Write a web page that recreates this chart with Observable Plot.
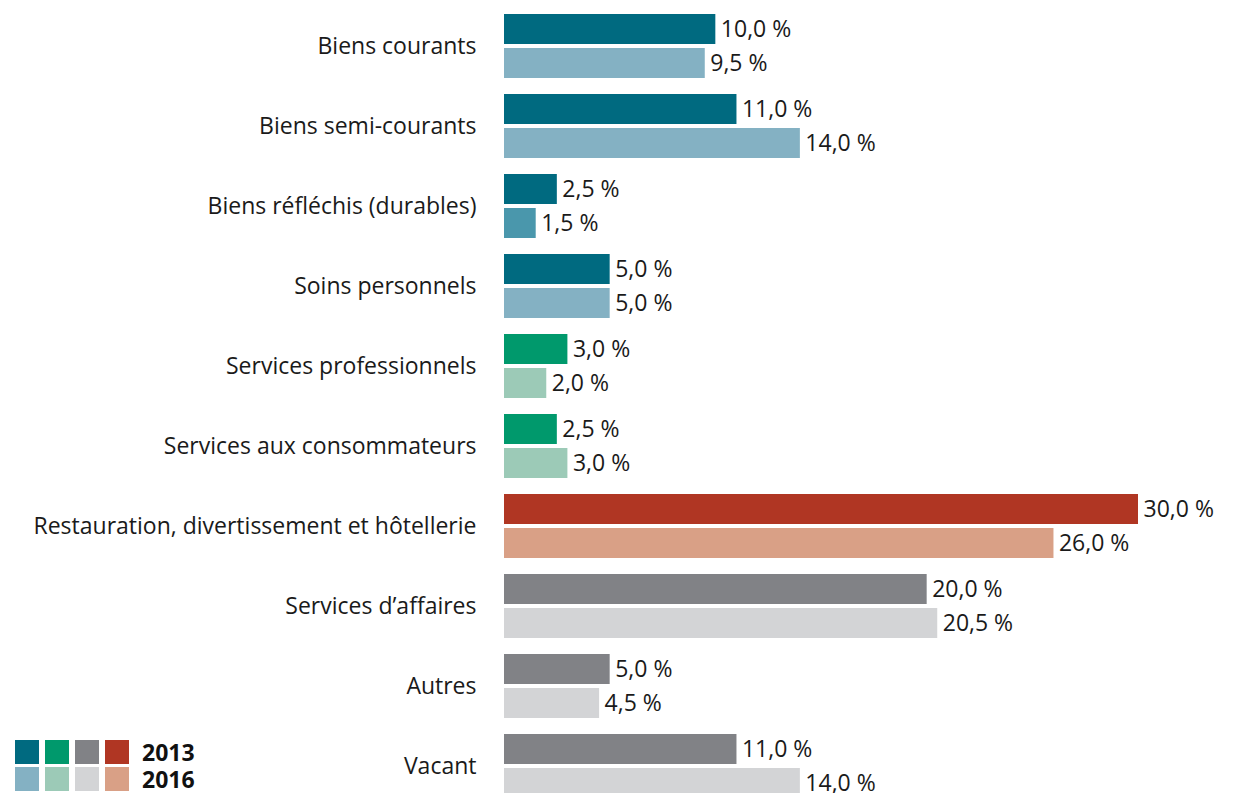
<!DOCTYPE html>
<html>
<head>
<meta charset="utf-8">
<script src="https://cdn.jsdelivr.net/npm/d3@7"></script>
<script src="https://cdn.jsdelivr.net/npm/@observablehq/plot@0.6"></script>
<style>
  html, body { margin: 0; padding: 0; background: #fff; overflow: hidden; }
  #wrap { position: relative; width: 1234px; height: 793px; font-family: "Open Sans", "Noto Sans", sans-serif; }
  #legend { position: absolute; left: 15px; top: 740px; }
  .sw { position: absolute; width: 24px; height: 24px; }
  .yr { position: absolute; left: 127px; font-weight: bold; font-size: 23px; color: #111; line-height: 22px; }
</style>
</head>
<body>
<div id="wrap"><div id="chart"></div><div id="legend"></div></div>
<script>
const categories = [
  "Biens courants",
  "Biens semi-courants",
  "Biens réfléchis (durables)",
  "Soins personnels",
  "Services professionnels",
  "Services aux consommateurs",
  "Restauration, divertissement et hôtellerie",
  "Services d’affaires",
  "Autres",
  "Vacant"
];
const values2013 = [10.0, 11.0, 2.5, 5.0, 3.0, 2.5, 30.0, 20.0, 5.0, 11.0];
const values2016 = [9.5, 14.0, 1.5, 5.0, 2.0, 3.0, 26.0, 20.5, 4.5, 14.0];
const groups = ["biens", "biens", "biens", "biens", "services", "services", "resto", "affaires", "affaires", "affaires"];
const years = ["2013", "2016"];
const palette2013 = {biens: "#006a80", services: "#00996c", affaires: "#818286", resto: "#b03623"};
const palette2016 = {biens: "#84b1c3", services: "#9ccab7", affaires: "#d3d4d6", resto: "#d9a086"};
const overrides2016 = {"Biens réfléchis (durables)": "#4a97ac"};

const rows = [];
categories.forEach((c, i) => {
  rows.push({category: c, year: "2013", value: values2013[i], color: palette2013[groups[i]]});
  rows.push({category: c, year: "2016", value: values2016[i], color: overrides2016[c] || palette2016[groups[i]]});
});
const fmt = v => v.toFixed(1).replace(".", ",") + "\u00a0%";
const r13 = rows.filter(d => d.year === "2013");
const r16 = rows.filter(d => d.year === "2016");

const chart = Plot.plot({
  width: 1234,
  height: 806,
  marginLeft: 504,
  marginRight: 96,
  marginTop: 6,
  marginBottom: 0,
  style: {fontFamily: "'Open Sans', 'Noto Sans', sans-serif", fontSize: "23px", fontWeight: 400, color: "#1a1a1a", background: "transparent"},
  x: {domain: [0, 30], axis: null},
  y: {domain: categories, paddingInner: 0.2, paddingOuter: 0.1, label: null, axis: null},
  color: {type: "identity"},
  marks: [
    Plot.axisY({tickSize: 0, tickPadding: 28, fontSize: 23, label: null}),
    Plot.barX(r13, {x: "value", y: "category", fill: "color", insetBottom: 34}),
    Plot.barX(r16, {x: "value", y: "category", fill: "color", insetTop: 34}),
    Plot.text(r13, {x: "value", y: "category", text: d => fmt(d.value), dy: -17, dx: 5, textAnchor: "start", fill: "#1a1a1a", fontSize: 23, letterSpacing: 0.8}),
    Plot.text(r16, {x: "value", y: "category", text: d => fmt(d.value), dy: 17, dx: 5, textAnchor: "start", fill: "#1a1a1a", fontSize: 23, letterSpacing: 0.8})
  ]
});
document.getElementById("chart").appendChild(chart);

const legend = document.getElementById("legend");
const order = ["biens", "services", "affaires", "resto"];
order.forEach((g, i) => {
  [palette2013, palette2016].forEach((p, j) => {
    const s = document.createElement("div");
    s.className = "sw";
    s.style.left = (i * 30) + "px";
    s.style.top = (j * 27) + "px";
    s.style.background = p[g];
    legend.appendChild(s);
  });
});
years.forEach((y, j) => {
  const t = document.createElement("div");
  t.className = "yr";
  t.style.top = (j * 27 + 1) + "px";
  t.textContent = y;
  legend.appendChild(t);
});
</script>
</body>
</html>
